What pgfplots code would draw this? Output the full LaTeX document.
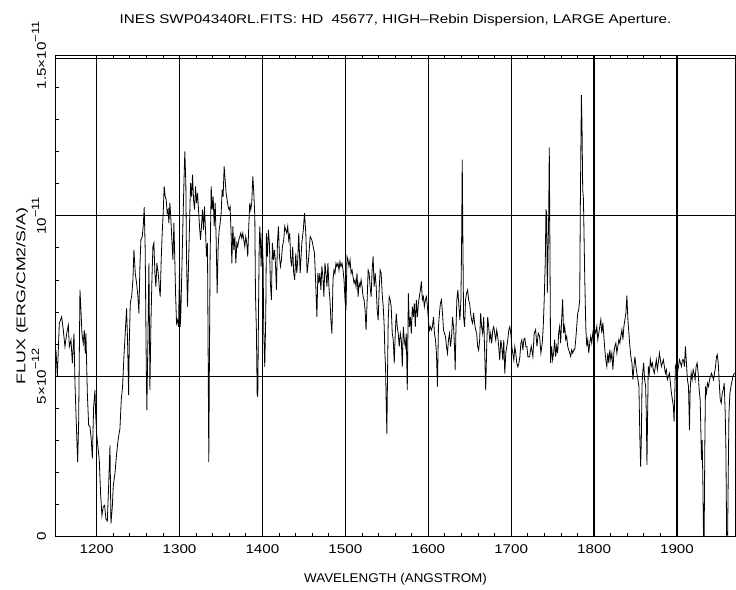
\documentclass[border=0pt]{standalone}
\usepackage{fontspec}
\setmainfont{Liberation Sans}[FakeStretch=1.2]
\newfontfamily\xlabfont{Liberation Sans}[FakeStretch=1.06]
\newfontfamily\ylabfont{Liberation Sans}[FakeStretch=1.4]
\usepackage{pgfplots}
\usetikzlibrary{calc}
\pgfplotsset{compat=1.18}
\newcommand{\sep}[1]{\raisebox{0.55em}{\fontsize{8}{8}\selectfont #1}}

\begin{document}
\begin{tikzpicture}[font=\fontsize{9.5}{11}\selectfont]
\begin{axis}[
  scale only axis, width=509.25pt, height=360.75pt,
  xmin=1151, xmax=1970, ymin=0, ymax=15,
  xtick={1200,1300,...,1900},
  xticklabels={1200,1300,1400,1500,1600,1700,1800,1900},
  minor x tick num=4,
  ytick={0,5,10,15},
  yticklabels={0,5×10\sep{−12},10\sep{−11},1.5×10\sep{−11}},
  minor y tick num=4, ytick pos=left,
  tick align=inside, major tick length=3pt, minor tick length=2.4pt,
  every tick/.style={black, line width=0.6pt},
  grid=major, major grid style={black, line width=0.9pt},
  axis line style={line width=0.75pt},
  xticklabel style={yshift=-2.3pt},
  yticklabel style={xshift=-7.5pt, rotate=90, anchor=base},
]
% flux in units of 1e-12 erg/cm2/s/A
\addplot[black, line width=0.6pt] coordinates {
(1151.0,5.81)(1152.6,4.98)(1155.0,6.65)(1157.8,6.85)(1159.8,6.44)(1161.8,5.92)(1163.9,6.33)(1165.9,6.59)
(1167.1,5.92)(1169.1,6.13)(1170.7,5.40)(1172.7,6.33)(1173.9,4.77)(1175.9,3.21)(1177.1,2.32)(1178.3,3.52)
(1179.9,7.69)(1181.1,7.06)(1182.3,6.33)(1183.9,6.02)(1185.1,6.44)(1186.3,5.71)(1187.1,6.33)(1188.8,4.46)
(1190.4,3.47)(1192.0,3.42)(1193.6,3.00)(1194.8,2.43)(1196.4,4.04)(1198.0,4.56)(1198.8,3.83)(1200.0,3.21)
(1201.6,2.79)(1203.2,2.38)(1204.8,1.33)(1206.4,0.66)(1208.0,0.92)(1209.6,0.97)(1211.2,0.55)(1212.9,0.48)
(1214.5,1.59)(1216.1,2.84)(1217.3,0.40)(1218.9,0.92)(1220.1,1.59)(1222.1,1.96)(1224.1,2.58)(1226.1,3.05)
(1228.1,3.36)(1229.7,4.25)(1231.3,4.67)(1232.9,5.60)(1234.5,6.33)(1236.1,7.11)(1237.3,6.13)(1238.6,4.41)
(1239.4,6.02)(1240.6,7.27)(1242.2,7.48)(1243.8,8.00)(1245.0,8.94)(1246.6,8.21)(1248.2,7.90)(1249.8,7.48)
(1251.0,6.96)(1252.2,8.42)(1253.4,9.25)(1255.0,9.35)(1256.2,9.67)(1257.4,10.27)(1258.6,8.94)(1259.8,5.50)
(1260.6,3.94)(1261.8,6.02)(1263.1,8.52)(1264.3,4.56)(1265.5,6.65)(1266.7,8.00)(1267.9,9.04)(1269.1,9.15)
(1270.3,8.21)(1271.5,7.79)(1272.7,8.52)(1274.3,8.21)(1275.5,7.79)(1276.7,7.48)(1277.9,8.63)(1279.1,9.46)
(1280.3,10.08)(1281.5,10.92)(1282.7,10.60)(1283.9,10.50)(1285.1,10.08)(1286.3,10.19)(1287.1,9.77)(1288.4,10.40)
(1289.6,9.88)(1290.8,9.25)(1292.0,8.63)(1293.2,9.77)(1294.4,8.52)(1295.2,7.58)(1296.4,6.65)(1297.6,6.75)
(1298.8,6.54)(1300.0,8.42)(1300.8,6.54)(1301.6,6.96)(1302.8,8.31)(1304.0,9.67)(1305.2,10.92)(1306.4,12.01)
(1307.6,11.02)(1308.4,8.73)(1309.6,7.17)(1310.8,8.42)(1312.0,9.67)(1313.3,11.02)(1314.5,10.60)(1315.7,11.28)
(1316.9,10.50)(1318.1,10.19)(1319.3,10.92)(1320.5,10.40)(1321.7,10.71)(1322.9,10.19)(1324.1,9.67)(1325.3,9.25)
(1326.5,9.67)(1327.7,10.19)(1328.9,9.56)(1330.1,10.29)(1331.3,9.56)(1332.5,8.73)(1333.7,9.15)(1334.5,5.71)
(1335.3,2.32)(1336.1,5.71)(1336.9,8.73)(1338.2,10.92)(1339.4,10.19)(1340.6,10.60)(1341.8,9.67)(1343.0,10.40)
(1344.2,9.25)(1345.4,7.58)(1346.6,9.04)(1347.8,9.56)(1349.0,9.77)(1350.2,10.08)(1351.4,10.81)(1352.6,10.60)
(1353.8,11.54)(1355.0,11.13)(1356.2,10.71)(1357.4,10.50)(1358.6,10.29)(1359.8,10.19)(1361.0,10.29)(1362.2,9.46)
(1363.1,8.52)(1364.3,9.67)(1365.5,8.94)(1366.7,9.35)(1367.9,8.52)(1369.1,9.15)(1370.3,9.04)(1371.5,9.25)
(1372.7,9.35)(1373.9,9.46)(1375.1,9.30)(1376.3,9.46)(1377.5,9.25)(1378.7,9.04)(1379.9,9.35)(1381.1,9.15)
(1382.3,8.73)(1383.5,9.67)(1384.7,10.40)(1385.9,10.19)(1387.1,10.40)(1388.4,11.23)(1389.6,10.71)(1390.8,9.98)
(1391.6,7.58)(1392.8,6.33)(1393.6,4.46)(1394.4,4.35)(1395.2,6.85)(1396.0,8.83)(1396.8,9.67)(1397.6,9.25)
(1398.4,8.42)(1399.6,9.46)(1400.8,8.52)(1401.6,6.44)(1402.8,5.29)(1404.0,6.85)(1404.8,9.46)(1406.0,8.73)
(1407.2,9.56)(1408.4,9.15)(1409.6,7.90)(1410.8,7.38)(1412.0,9.15)(1413.3,8.63)(1414.5,8.94)(1415.7,8.52)
(1416.9,7.69)(1418.1,9.15)(1419.3,9.67)(1420.5,8.73)(1421.7,8.42)(1422.9,8.63)(1424.1,9.04)(1425.7,9.25)
(1426.9,9.67)(1428.1,9.56)(1429.3,9.46)(1430.5,9.67)(1431.7,9.25)(1432.9,9.46)(1434.1,8.63)(1435.3,8.42)
(1436.5,9.04)(1437.7,8.21)(1438.9,8.00)(1440.2,8.83)(1441.4,8.21)(1442.6,8.63)(1443.8,9.46)
(1445.5,8.21)(1447.5,9.15)(1449.3,9.56)(1450.7,10.08)(1452.3,9.46)(1453.9,8.21)(1455.6,8.63)(1457.6,9.35)
(1459.6,9.25)(1461.2,9.04)(1462.8,8.83)(1464.4,7.79)(1465.7,6.85)(1466.9,8.21)(1468.1,7.90)(1469.3,8.21)
(1470.5,7.69)(1471.7,8.42)(1472.9,8.10)(1474.1,7.48)(1475.4,8.52)(1476.6,8.21)(1477.8,7.79)(1479.0,8.52)
(1480.2,7.79)(1481.4,7.38)(1482.6,6.75)(1483.8,6.33)(1485.1,8.00)(1486.3,8.31)(1487.5,8.21)(1488.7,8.52)
(1489.9,8.42)(1491.1,8.52)(1492.3,8.31)(1493.5,8.57)(1494.7,8.42)(1496.0,8.52)(1497.2,8.31)(1498.4,8.00)
(1499.6,7.38)(1500.8,7.06)(1502.0,8.73)(1503.2,8.63)(1504.4,8.42)(1505.7,8.63)(1506.9,8.21)(1508.1,8.31)
(1509.3,8.10)(1510.5,7.90)(1511.7,8.00)(1512.9,7.79)(1514.1,8.21)(1515.4,7.48)(1516.6,7.90)(1517.8,7.79)
(1519.0,8.00)(1520.2,7.79)(1521.4,7.48)(1522.6,7.38)(1523.8,7.06)(1525.0,6.44)(1526.3,7.38)(1527.5,8.31)
(1528.7,8.21)(1529.9,7.79)(1531.1,7.48)(1532.3,8.31)(1533.5,8.73)(1534.7,7.79)(1536.0,8.21)(1537.2,7.79)
(1538.4,7.06)(1539.6,6.75)(1540.8,7.69)(1542.0,8.31)(1543.2,8.21)(1544.4,7.58)(1545.7,7.17)(1546.9,6.54)
(1547.7,5.71)(1548.5,5.29)(1549.3,4.15)(1550.1,3.21)(1550.9,5.08)(1551.7,6.75)(1552.9,7.48)(1554.1,7.38)
(1555.3,7.17)(1556.6,6.33)(1557.8,6.13)(1559.0,5.40)(1560.2,6.33)(1561.4,6.96)(1562.6,6.54)(1563.8,6.33)
(1565.0,5.92)(1566.3,6.33)(1567.5,6.13)(1568.7,5.29)(1569.9,6.54)(1571.1,6.13)(1572.3,5.92)(1573.5,6.33)
(1574.7,4.56)(1576.0,7.58)(1577.2,6.54)(1578.4,6.85)(1579.6,6.33)(1580.8,7.17)(1582.0,6.85)(1583.2,7.27)
(1584.4,6.54)(1585.6,7.38)(1586.9,6.85)(1588.1,7.27)(1589.3,7.48)(1590.5,7.69)(1591.7,7.95)(1592.9,7.38)
(1594.1,7.48)(1595.3,7.17)(1596.6,7.38)(1597.8,7.48)(1599.0,7.17)(1600.2,6.75)(1601.4,6.44)(1602.6,6.54)
(1603.8,6.44)(1605.0,6.54)(1606.3,6.85)(1607.5,6.33)(1608.7,6.13)(1609.9,5.71)(1611.1,4.67)(1612.3,6.54)
(1613.5,6.96)(1614.7,7.27)(1615.9,7.38)(1617.2,6.96)(1618.4,6.44)(1619.6,6.33)(1620.8,6.23)(1622.0,5.92)
(1623.2,5.71)(1624.4,6.13)(1625.6,6.33)(1626.9,5.92)(1628.1,6.23)(1629.3,6.85)(1630.5,6.54)(1631.7,5.92)
(1632.5,5.19)(1633.3,6.33)(1634.5,7.38)(1635.7,7.69)(1637.0,7.17)(1638.2,6.75)(1639.4,7.38)(1640.2,9.04)
(1641.0,11.75)(1641.8,9.15)(1642.6,6.85)(1643.8,6.54)(1645.0,7.38)(1646.2,7.58)(1647.5,7.69)(1648.7,7.38)
(1649.9,7.27)(1651.1,6.96)(1652.3,6.75)(1653.5,6.65)(1654.7,6.96)(1655.9,6.65)(1657.2,6.44)(1658.4,6.33)
(1659.6,5.92)(1660.8,5.81)(1662.0,6.13)(1663.2,6.96)(1664.4,6.54)(1665.6,6.33)(1666.9,6.85)(1668.1,5.71)
(1669.3,4.56)(1670.5,5.92)(1671.7,6.85)(1672.9,6.54)(1674.1,6.13)(1675.3,6.33)(1676.5,6.02)(1677.8,6.44)
(1679.0,6.54)(1680.2,6.33)(1681.4,6.13)(1682.6,6.44)(1683.8,6.23)(1685.0,5.92)(1686.2,5.50)(1687.5,6.13)
(1688.7,5.92)(1689.9,5.50)(1691.1,6.13)(1692.3,5.08)(1693.5,5.71)(1694.7,5.92)(1695.9,6.13)(1697.2,6.44)
(1698.4,6.54)(1699.6,6.33)(1700.8,5.92)(1702.0,5.71)(1703.2,5.50)(1704.4,5.92)(1705.6,5.71)(1706.8,5.40)
(1708.1,5.29)(1709.3,5.40)(1710.5,5.60)(1711.7,6.02)(1712.9,6.13)(1714.1,5.81)(1715.3,6.13)(1716.5,6.18)
(1717.8,5.92)(1719.0,5.92)(1720.2,5.60)(1721.4,5.60)
(1722.2,5.61)(1724.2,5.93)(1726.2,5.61)(1727.8,6.34)(1729.5,6.45)(1731.1,5.93)(1732.7,6.34)(1734.3,6.24)
(1735.9,5.72)(1737.5,6.03)(1738.7,6.55)(1739.9,7.39)(1741.2,8.64)(1742.0,10.20)(1742.8,10.09)(1743.6,7.59)
(1744.4,8.74)(1745.2,9.89)(1746.0,12.13)(1746.8,8.84)(1747.6,5.41)(1748.8,5.93)(1750.0,5.51)(1751.2,5.72)
(1752.5,6.14)(1753.7,5.61)(1754.9,5.93)(1756.1,5.72)(1757.3,6.34)(1758.5,6.55)(1759.7,6.03)(1760.9,6.76)
(1762.1,7.39)(1763.3,6.34)(1764.6,6.55)(1765.8,6.14)(1767.0,6.24)(1768.2,5.93)(1769.4,5.82)(1770.6,5.72)
(1771.8,5.61)(1773.0,5.82)(1774.2,5.72)(1775.5,5.82)(1776.7,5.82)(1777.9,6.14)(1779.1,6.55)(1780.3,6.97)
(1781.5,7.07)(1782.7,7.39)(1783.5,10.51)(1784.7,13.76)(1785.5,12.80)(1786.3,10.82)(1787.2,10.51)(1788.0,9.26)
(1788.8,8.01)(1790.0,6.55)(1791.2,5.93)(1792.4,6.14)(1793.6,5.72)(1794.8,6.03)(1796.0,6.24)(1797.2,6.03)
(1798.5,6.34)(1799.7,6.14)(1800.9,6.45)(1802.1,6.34)(1803.3,6.55)(1804.5,6.14)(1805.7,6.34)(1806.9,6.55)
(1808.1,6.76)(1809.3,6.34)(1810.6,6.66)(1811.8,6.24)(1813.0,5.82)(1814.2,5.51)(1815.4,5.30)(1816.6,5.72)
(1817.8,5.41)(1819.0,5.82)(1820.2,5.51)(1821.5,5.72)(1822.7,5.20)(1823.9,5.72)(1825.1,5.93)(1826.3,6.03)
(1827.5,5.72)(1828.7,5.93)(1829.9,6.14)(1831.1,6.03)(1832.3,6.24)(1833.6,6.45)(1834.8,6.14)(1836.0,6.55)
(1837.2,6.76)(1838.4,6.97)(1839.6,7.51)(1840.8,6.76)(1842.0,6.34)(1843.2,5.93)(1844.4,5.61)(1845.7,5.41)
(1846.9,4.89)(1848.1,5.30)(1849.3,5.61)(1850.5,5.30)(1851.7,5.09)(1852.9,4.89)(1854.1,4.68)(1855.3,3.01)
(1856.2,2.18)(1857.0,3.01)(1857.8,4.68)(1858.6,5.09)(1859.8,5.41)(1861.0,4.89)(1862.2,4.68)(1863.0,3.84)
(1863.8,2.23)(1864.6,3.84)(1865.4,5.30)(1866.6,5.09)(1867.9,5.51)(1869.1,5.30)(1870.3,5.41)(1871.5,5.20)
(1872.7,5.09)(1873.9,5.30)(1875.1,5.51)(1876.3,5.20)(1877.5,5.41)(1878.8,5.72)(1880.0,5.51)(1881.2,5.30)
(1882.4,5.41)(1883.6,5.51)(1884.8,5.30)(1886.0,5.09)(1887.2,5.20)(1888.4,4.89)(1889.6,4.99)(1890.9,5.09)
(1892.1,4.78)(1893.3,4.47)(1894.5,4.26)(1895.7,4.05)(1896.5,3.58)(1897.3,4.36)(1898.1,5.30)(1899.3,5.41)
(1900.5,5.09)(1901.8,5.30)(1903.0,5.51)(1904.2,5.41)(1905.4,5.30)(1906.6,5.51)(1907.8,5.51)(1909.0,5.30)
(1910.2,5.93)(1911.4,5.41)(1912.6,4.89)(1913.9,4.68)(1915.1,3.32)(1915.9,4.57)(1917.1,5.09)(1918.3,4.89)
(1919.5,5.20)(1920.7,5.09)(1921.9,4.89)(1923.1,5.30)(1924.3,5.41)(1925.6,5.09)(1926.8,4.57)(1928.0,4.26)
(1928.8,3.32)(1929.6,2.39)(1930.4,3.01)(1931.2,1.76)(1932.0,0.01)(1932.8,0.01)(1933.6,2.80)(1934.4,4.68)
(1935.6,4.47)(1936.8,4.78)(1938.1,4.68)(1939.3,4.89)(1940.5,4.99)(1941.7,5.09)(1942.9,4.99)(1944.1,4.89)
(1945.3,5.09)(1946.5,5.30)(1947.7,5.61)(1948.6,5.67)(1949.8,5.41)(1951.0,4.78)(1952.2,4.26)(1953.4,4.16)
(1954.6,4.47)(1955.8,4.57)(1957.0,4.78)(1958.2,3.84)(1959.0,2.80)(1959.9,0.04)(1961.1,0.04)(1961.9,2.07)
(1962.7,3.84)(1963.9,4.47)(1965.1,4.68)(1966.3,4.83)(1967.5,4.99)(1969.1,5.09)(1970.7,5.09)
};
\coordinate (ll) at (rel axis cs:0,0);
\coordinate (ul) at (rel axis cs:0,1);
\coordinate (ur) at (rel axis cs:1,1);
\coordinate (lr) at (rel axis cs:1,0);
\end{axis}
\draw[line width=0.6pt] ([yshift=-2.25pt]ul) -- ([yshift=-2.25pt]ur);
\node at ($(ul)!0.5!(ur)+(0,26.6pt)$) {INES SWP04340RL.FITS: HD\ \ 45677, HIGH--Rebin Dispersion, LARGE Aperture.};
\node at ($(ll)!0.5!(lr)+(0,-31.9pt)$) {\xlabfont WAVELENGTH (ANGSTROM)};
\node[rotate=90] at ($(ll)!0.5!(ul)+(-25.5pt,0)$) {\ylabfont FLUX (ERG/CM2/S/A)};
\pgfresetboundingbox
\path ([shift={(-42pt,-39.75pt)}]ll) rectangle ([shift={(0.75pt,41.6pt)}]ur);
\end{tikzpicture}
\end{document}
